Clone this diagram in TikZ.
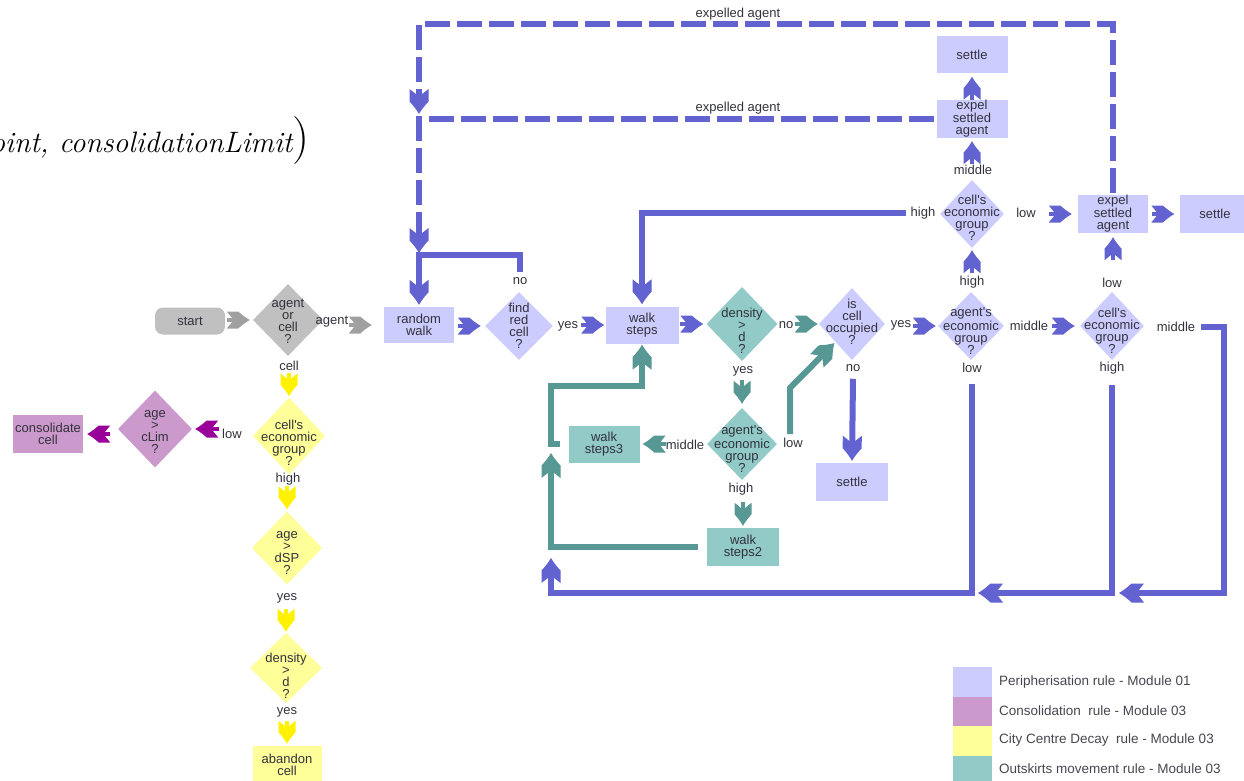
\documentclass[tikz,border=0pt]{standalone}
\usepackage{fontspec}
\newfontfamily\sans{Liberation Sans}
\usetikzlibrary{arrows.meta,shapes.geometric}
\pgfdeclarearrow{
  name = Chev,
  defaults = {length=24pt, width=17pt},
  parameters = {\the\pgfarrowlength,\the\pgfarrowwidth},
  setup code = {
    \pgfarrowssettipend{\pgfarrowlength}
    \pgfarrowssetlineend{.45\pgfarrowlength}
    \pgfarrowssetbackend{0pt}
    \pgfarrowshullpoint{\pgfarrowlength}{0pt}
    \pgfarrowsupperhullpoint{0pt}{.5\pgfarrowwidth}
    \pgfarrowssavethe\pgfarrowlength
    \pgfarrowssavethe\pgfarrowwidth
  },
  drawing code = {
    \pgfpathmoveto{\pgfpoint{\pgfarrowlength}{0pt}}
    \pgfpathcurveto{\pgfpoint{.8\pgfarrowlength}{.15\pgfarrowwidth}}{\pgfpoint{.62\pgfarrowlength}{.35\pgfarrowwidth}}{\pgfpoint{.5\pgfarrowlength}{.5\pgfarrowwidth}}
    \pgfpathlineto{\pgfpoint{0pt}{.5\pgfarrowwidth}}
    \pgfpathlineto{\pgfpoint{.3\pgfarrowlength}{0pt}}
    \pgfpathlineto{\pgfpoint{0pt}{-.5\pgfarrowwidth}}
    \pgfpathlineto{\pgfpoint{.5\pgfarrowlength}{-.5\pgfarrowwidth}}
    \pgfpathcurveto{\pgfpoint{.62\pgfarrowlength}{-.35\pgfarrowwidth}}{\pgfpoint{.8\pgfarrowlength}{-.15\pgfarrowwidth}}{\pgfpoint{\pgfarrowlength}{0pt}}
    \pgfpathclose
    \pgfusepathqfill
  }
}
\definecolor{lav}{RGB}{204,204,255}
\definecolor{tealF}{RGB}{145,202,198}
\definecolor{purF}{RGB}{204,153,204}
\definecolor{yelF}{RGB}{255,255,153}
\definecolor{grayF}{RGB}{192,192,192}
\definecolor{arrB}{RGB}{98,98,208}
\definecolor{arrT}{RGB}{88,152,148}
\definecolor{arrP}{RGB}{153,0,153}
\definecolor{arrY}{RGB}{255,242,0}
\definecolor{arrG}{RGB}{160,160,160}
\definecolor{txt}{RGB}{50,50,60}
\begin{document}
\begin{tikzpicture}[x=1pt,y=-1pt,
  every node/.style={font=\sans\fontsize{13}{12}\selectfont, text=txt, align=center, inner sep=1pt},
  box/.style={rectangle, minimum width=71pt, minimum height=37pt, inner sep=0pt},
  dia/.style={diamond, inner sep=0pt},
  legbox/.style={rectangle, minimum width=39pt, minimum height=29.5pt, inner sep=0pt},
  legtxt/.style={anchor=west, font=\sans\fontsize{13.5}{14}\selectfont, text=txt!90},
  chB/.style={draw=arrB, line width=4pt, -{Chev[length=23pt,width=17pt]}},
  chT/.style={draw=arrT, line width=4pt, -{Chev[length=23pt,width=17pt]}},
  chP/.style={draw=arrP, line width=4pt, -{Chev[length=23pt,width=17pt]}},
  chY/.style={draw=arrY, line width=4pt, -{Chev[length=23pt,width=17pt]}},
  chG/.style={draw=arrG, line width=4pt, -{Chev[length=23pt,width=17pt]}},
  lnB/.style={draw=arrB, line width=6pt, -{Chev[length=25pt,width=19pt]}},
  lnT/.style={draw=arrT, line width=6pt, -{Chev[length=25pt,width=19pt]}},
  dashB/.style={dash pattern=on 25pt off 7pt}
]
\useasboundingbox (0,0) rectangle (1244,781);

% title fragment (cut by the left edge, as in the reference)
\node[anchor=base west, inner sep=0pt, text=black, font=\rmfamily\fontsize{29.5}{30}\selectfont] (ttl) at (-23,152) {\itshape point, consolidationLimit{\fontsize{48}{48}\selectfont\upshape)}};

% gray
\node[box, fill=grayF, rounded corners=8pt, minimum width=70pt, minimum height=27pt] (start) at (190,321) {start};
\node[dia, fill=grayF, minimum width=70pt, minimum height=72pt] (q1) at (288,320) {};
\node (q1t) at (288,321) {agent\\or\\cell\\?};

% yellow
\node[dia, fill=yelF, minimum width=72pt, minimum height=77pt] (yq1) at (289,436) {};
\node (yq1t) at (289,443) {cell's\\economic\\group\\?};
\node[dia, fill=yelF, minimum width=70pt, minimum height=73pt] (yq2) at (287,548) {};
\node (yq2t) at (287,553) {age\\>\\dSP\\?};
\node[dia, fill=yelF, minimum width=72pt, minimum height=70pt] (yq3) at (286,668) {};
\node (yq3t) at (286,676) {density\\>\\d\\?};
\node[box, fill=yelF, minimum width=69pt, minimum height=38pt] (aband) at (287,765) {abandon\\cell};

% purple
\node[dia, fill=purF, minimum width=74pt, minimum height=77pt] (pq) at (155,429) {};
\node (pqt) at (155,432) {age\\>\\cLim\\?};
\node[box, fill=purF, minimum width=70pt, minimum height=38pt] (cons) at (48,434) {consolidate\\cell};

% lavender
\node[box, fill=lav, minimum width=70pt, minimum height=36pt] (rw) at (419,325) {random\\walk};
\node[dia, fill=lav, minimum width=68pt, minimum height=68pt] (frc) at (519,326) {};
\node (frct) at (519,326) {find\\red\\cell\\?};
\node[box, fill=lav, minimum width=73pt] (ws) at (642,325) {walk\\steps};
\node[dia, fill=tealF, minimum width=71pt, minimum height=74pt] (dens) at (742,324) {};
\node (denst) at (742,331) {density\\>\\d\\?};
\node[dia, fill=lav, minimum width=66pt, minimum height=72pt] (isc) at (852,324) {};
\node (isct) at (852,322) {is\\cell\\occupied\\?};
\node[box, fill=lav, minimum width=72pt, minimum height=38pt] (set1) at (852,482) {settle};
\node[dia, fill=lav, minimum width=66pt, minimum height=68pt] (aeg) at (971,326) {};
\node (aegt) at (971,331) {agent's\\economic\\group\\?};
\node[dia, fill=lav, minimum width=64pt, minimum height=68pt] (ceg) at (1112,326) {};
\node (cegt) at (1112,331) {cell's\\economic\\group\\?};
\node[dia, fill=lav, minimum width=64pt, minimum height=68pt] (uceg) at (972,214) {};
\node (ucegt) at (972,218) {cell's\\economic\\group\\?};
\node[box, fill=lav, minimum height=38pt] (exp1) at (972,119) {expel\\settled\\agent};
\node[box, fill=lav] (set2) at (972,55) {settle};
\node[box, fill=lav, minimum width=70pt, minimum height=38pt] (exp2) at (1113,214) {expel\\settled\\agent};
\node[box, fill=lav, minimum height=38pt] (set3) at (1215,214) {settle};

% teal
\node[dia, fill=tealF, minimum width=70pt, minimum height=72pt] (tq) at (742,444) {};
\node (tqt) at (742,449) {agent's\\economic\\group\\?};
\node[box, fill=tealF] (ws3) at (604,444) {walk\\steps3};
\node[box, fill=tealF, minimum width=72pt, minimum height=38pt] (ws2) at (743,547) {walk\\steps2};

% edge labels
\node (lagent) at (332,322) {agent};
\node (lcell) at (289,366) {cell};
\node (llowY) at (232,434) {low};
\node (lhighY) at (288,479) {high};
\node (lyesY1) at (287,598) {yes};
\node (lyesY2) at (287,712) {yes};
\node (lno1) at (520,281) {no};
\node (lyes3) at (568,326) {yes};
\node (lyes5) at (743,371) {yes};
\node (lno2) at (786,325) {no};
\node (lyes4) at (901,325) {yes};
\node (lno3) at (853,368) {no};
\node (lmid2) at (685,445) {middle};
\node (llow2) at (793,443) {low};
\node (lhigh2) at (741,489) {high};
\node (lmid1) at (1029,326) {middle};
\node (llow3) at (972,368) {low};
\node (lhigh4) at (972,282) {high};
\node (llow5) at (1112,283) {low};
\node (lhigh3) at (1112,368) {high};
\node (lmid4) at (1176,327) {middle};
\node (lhigh5) at (923,213) {high};
\node (llow4) at (1026,213) {low};
\node (lmid3) at (973,170) {middle};
\node (lexp1) at (738,14) {expelled agent};
\node (lexp2) at (738,108) {expelled agent};

% short chevrons
\draw[chG] ([xshift=-26pt]q1.west) -- ([xshift=-3pt]q1.west);
\draw[chG] ([xshift=-35pt]rw.west) -- ([xshift=-12pt]rw.west);
\draw[chY] ([yshift=24pt]yq1.north) -- ([yshift=1pt]yq1.north);
\draw[chY] ([yshift=25pt]yq2.north) -- ([yshift=2pt]yq2.north);
\draw[chY] ([yshift=24pt]yq3.north) -- ([yshift=1pt]yq3.north);
\draw[chY] ([yshift=25pt]aband.north) -- ([yshift=2pt]aband.north);
\draw[chP] ([xshift=27pt]pq.east) -- ([xshift=3pt]pq.east);
\draw[chP] ([xshift=27pt]cons.east) -- ([xshift=4pt]cons.east);
\draw[chB] ([xshift=-27pt]frc.west) -- ([xshift=-4pt]frc.west);
\draw[chB] ([xshift=-24pt]ws.west) -- ([xshift=-1pt]ws.west);
\draw[chB] ([xshift=-26pt]dens.west) -- ([xshift=-3pt]dens.west);
\draw[chT] ([xshift=-24pt]isc.west) -- ([xshift=-1pt]isc.west);
\draw[chB] ([xshift=-25pt]aeg.west) -- ([xshift=-2pt]aeg.west);
\draw[chB] ([xshift=-28pt]ceg.west) -- ([xshift=-5pt]ceg.west);
\draw[chB] ([yshift=-25pt]uceg.south) -- ([yshift=-2pt]uceg.south);
\draw[chB] ([yshift=-26pt]exp1.south) -- ([yshift=-3pt]exp1.south);
\draw[chB] ([yshift=-26pt]set2.south) -- ([yshift=-3pt]set2.south);
\draw[chB] ([xshift=-29pt]exp2.west) -- ([xshift=-6pt]exp2.west);
\draw[chB] ([xshift=-27pt]set3.west) -- ([xshift=-5pt]set3.west);
\draw[chB] ([yshift=-27pt]exp2.south) -- ([yshift=-4pt]exp2.south);
\draw[chT] ([yshift=28pt]tq.north) -- ([yshift=4pt]tq.north);
\draw[chT] ([xshift=26pt]ws3.east) -- ([xshift=3pt]ws3.east);
\draw[chT] ([yshift=26pt]ws2.north) -- ([yshift=2pt]ws2.north);

% long connectors
\draw[lnB] ([yshift=-6pt]lno3.south) -- ([yshift=2pt]set1.north);
\draw[lnT] ([xshift=-3pt,yshift=3pt]llow2.north) -- (790,388) -- ([shift={(-1pt,-1pt)}]isc.south west);
\draw[lnT] ([xshift=-8pt]ws3.west) -| (551,386) -| ([yshift=-1pt]ws.south);
\draw[lnT] ([xshift=-9pt]ws2.west) -| (551,453);
\draw[lnB] ([yshift=-10pt]llow3.south) |- (551,593) -- (551,558);
\draw[lnB] ([yshift=-10pt]lhigh3.south) |- (978,593);
\draw[lnB] ([xshift=5pt]lmid4.east) -| (1224,593) -- (1119,593);
\draw[lnB] ([xshift=-4pt]lhigh5.west) -| ([yshift=2pt]ws.north);
\draw[lnB] ([yshift=4pt]lno1.north) |- (419,255) -- ([yshift=2pt]rw.north);
\draw[lnB, dashB] ([xshift=-2pt]exp1.west) -| (419,253);
\draw[lnB, dashB] ([yshift=2pt]exp2.north) |- (419,24) -- (419,114);

% legend
\node[legbox, fill=lav] (lg1) at (972.5,682) {};
\node[legbox, fill=purF] (lg2) at (972.5,711.5) {};
\node[legbox, fill=yelF] (lg3) at (972.5,741) {};
\node[legbox, fill=tealF] (lg4) at (972.5,770.5) {};
\node[legtxt] (lt1) at (998,682) {Peripherisation rule - Module 01};
\node[legtxt] (lt2) at (998,711) {Consolidation\ \ rule - Module 03};
\node[legtxt] (lt3) at (998,740) {City Centre Decay\ \ rule - Module 03};
\node[legtxt] (lt4) at (998,769) {Outskirts movement rule - Module 03};
\end{tikzpicture}
\end{document}
